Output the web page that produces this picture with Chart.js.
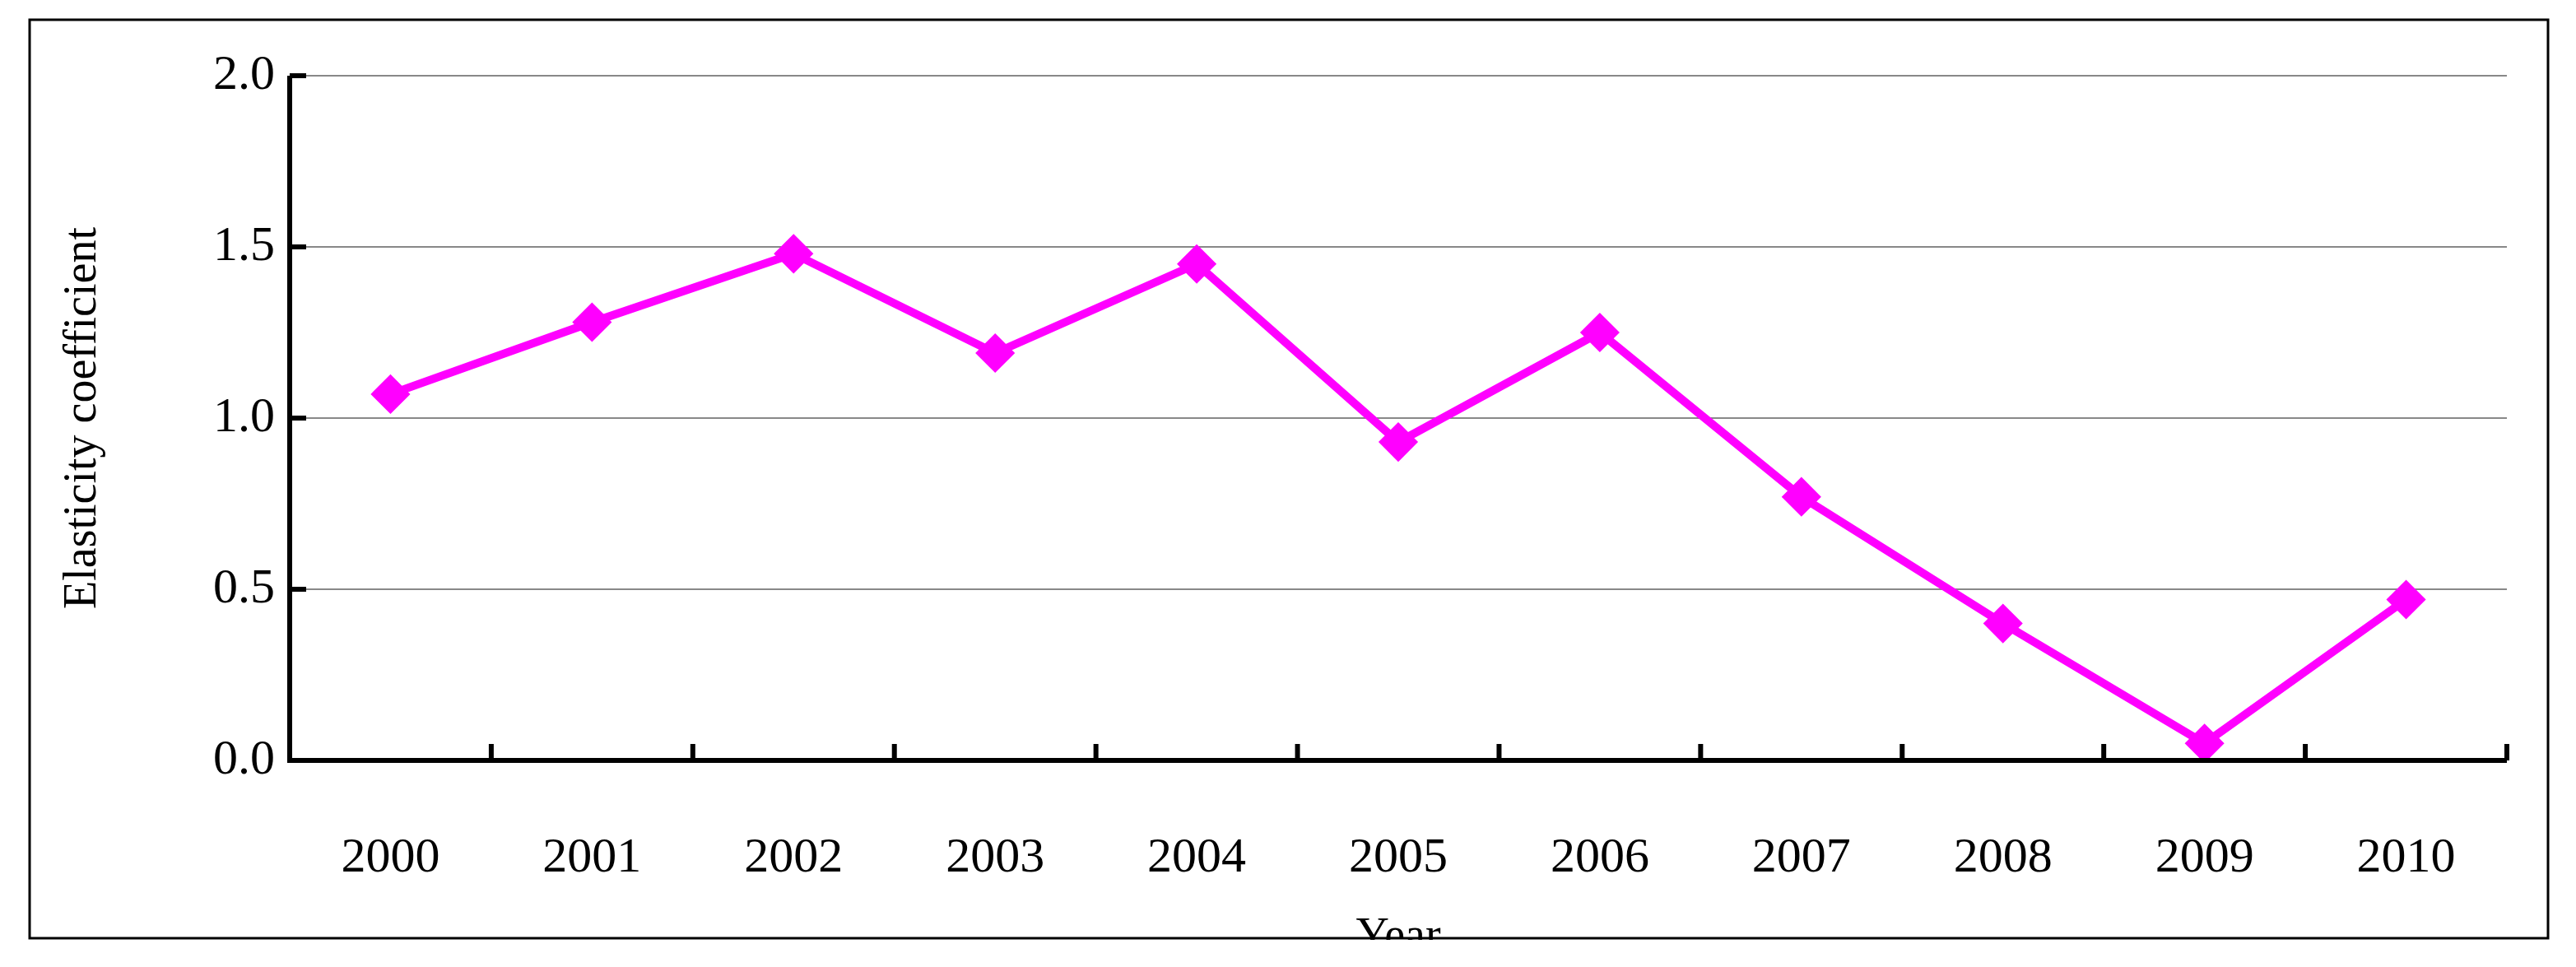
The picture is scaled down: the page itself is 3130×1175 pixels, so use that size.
<!DOCTYPE html>
<html><head><meta charset="utf-8">
<script src="https://cdn.jsdelivr.net/npm/chart.js@4"></script>
<style>html,body{margin:0;padding:0;background:#fff}#w{width:3130px;height:1175px}</style>
</head><body><div id="w"><canvas id="c"></canvas></div>
<script>
const categories = ["2000","2001","2002","2003","2004","2005","2006","2007","2008","2009","2010"];
const elasticity = [1.07,1.28,1.48,1.19,1.45,0.93,1.25,0.77,0.40,0.05,0.47];
const yTicks = [0,0.5,1.0,1.5,2.0];

const frame = {
  id:'frame',
  afterDraw(chart){
    const ctx = chart.ctx, x = chart.scales.x, y = chart.scales.y;
    ctx.save();
    ctx.strokeStyle = '#000'; ctx.lineWidth = 6;
    // axes
    ctx.beginPath();
    ctx.moveTo(x.left, y.getPixelForValue(2)); ctx.lineTo(x.left, y.bottom); ctx.lineTo(x.right, y.bottom);
    ctx.stroke();
    // y ticks inward
    yTicks.forEach(v=>{const p=y.getPixelForValue(v);ctx.beginPath();ctx.moveTo(x.left,p);ctx.lineTo(x.left+20,p);ctx.stroke();});
    // x ticks between categories, inward
    for(let i=0;i<=categories.length;i++){
      const p = x.getPixelForValue(i-0.5);
      ctx.beginPath();ctx.moveTo(p,y.bottom);ctx.lineTo(p,y.bottom-20);ctx.stroke();
    }
    // white mask below border and border
    ctx.fillStyle='#fff'; ctx.fillRect(0,1142,3130,40);
    ctx.lineWidth=3; ctx.strokeRect(36,24,3060,1116);
    ctx.restore();
  }
};

new Chart(document.getElementById('c'),{
  type:'line',
  data:{labels:categories,datasets:[{data:elasticity,borderColor:'#FF00FF',backgroundColor:'#FF00FF',borderWidth:10,
    pointStyle:'rectRot',pointRadius:17,pointHoverRadius:17,tension:0}]},
  options:{
    responsive:true,maintainAspectRatio:false,devicePixelRatio:1,animation:false,
    layout:{padding:{left:0,right:84,top:92,bottom:0}},
    plugins:{legend:{display:false},tooltip:{enabled:false}},
    scales:{
      x:{offset:true,grid:{display:false},border:{display:false},
        ticks:{color:'#000',font:{family:'Liberation Serif',size:60},padding:75},
        title:{display:true,text:'Year',color:'#000',font:{family:'Liberation Serif',size:56},padding:{top:0,bottom:2}},
        afterFit(s){s.height=251;}},
      y:{min:0,max:2,grid:{color:'#888',lineWidth:2,drawTicks:false},border:{display:false},
        afterBuildTicks(s){s.ticks=yTicks.map(v=>({value:v}));},
        ticks:{color:'#000',font:{family:'Liberation Serif',size:60},padding:18,callback:v=>Number(v).toFixed(1)},
        title:{display:true,text:'Elasticity coefficient',color:'#000',font:{family:'Liberation Serif',size:56},padding:{top:68,bottom:0}},
        afterFit(s){s.width=352;}}
    }
  },
  plugins:[frame]
});
</script></body></html>
